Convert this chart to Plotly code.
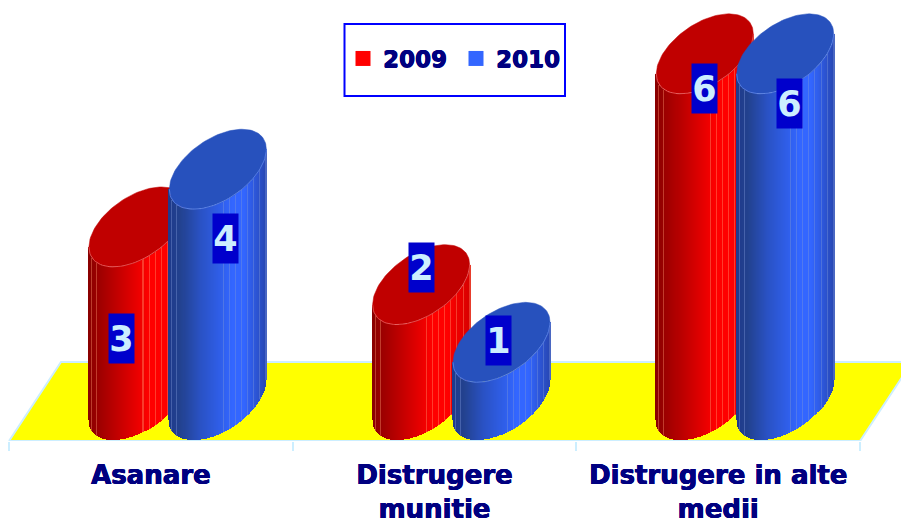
import numpy as np
import plotly.graph_objects as go

categories = ["Asanare", "Distrugere<br>munitie", "Distrugere in alte<br>medii"]
series_names = ["2009", "2010"]
values_2009 = [3, 2, 6]
values_2010 = [4, 1, 6]

# label nudges in pixels, as the original's data labels sit unevenly on the cylinders
nudge_2009 = [(-16, -112), (0, 17), (0, -35)]
nudge_2010 = [(8, -69), (-3, 2), (4, -50)]

W, H = 901, 524
CAT_PX = 283.67
UNIT_PX = 57.7
AX_LEFT, AX_BOTTOM = 9.0, 441.0
X_RANGE = [-0.5 - AX_LEFT / CAT_PX, -0.5 + (W - AX_LEFT) / CAT_PX]
Y_RANGE = [-(AX_BOTTOM - 360) / UNIT_PX, 360 / UNIT_PX]

HALF_W = 48.5 / CAT_PX
TILT = 20 / UNIT_PX
RISE = 34.6 / UNIT_PX
CENTER_DROP = 40 / UNIT_PX
OFFSETS = {"2009": -13.4 / CAT_PX, "2010": 67.0 / CAT_PX}
FLOOR_BACK = -2 / UNIT_PX
HEAVY = "0.5px 0 0 #000080, -0.3px 0 0 #000080, 0 0.3px 0 #000080"

RED_STOPS = [(0, "#8a0000"), (.12, "#a00000"), (.35, "#cc0000"), (.62, "#ff0000"), (.78, "#ff0000"), (1, "#d80000")]
BLUE_STOPS = [(0, "#1f3a8c"), (.12, "#23428f"), (.32, "#2a52c4"), (.65, "#3366ff"), (.78, "#3366ff"), (1, "#2848b4")]
TOP_COL = {"2009": "#c00000", "2010": "#2751bd"}
EDGE_COL = {"2009": "#e86060", "2010": "#5f86e8"}
SWATCH = {"2009": "#ff0000", "2010": "#3366ff"}
STOPS = {"2009": RED_STOPS, "2010": BLUE_STOPS}
PALE = {"2009": (255, 150, 110), "2010": (125, 150, 215)}


def hex2rgb(h):
    return tuple(int(h[i:i + 2], 16) for i in (1, 3, 5))


def strip_colors(name, n):
    stops = STOPS[name]
    pos = [s[0] for s in stops]
    rgb = np.array([hex2rgb(s[1]) for s in stops], float)
    out = []
    for k in range(n):
        f = k / (n - 1)
        c = np.array([np.interp(f, pos, rgb[:, j]) for j in range(3)])
        edge = k in (3, 8) or (f > 0.55 and k % 6 == 0)
        if edge:
            c = 0.6 * c + 0.4 * np.array(PALE[name])
        out.append("rgb(%d,%d,%d)" % tuple(c))
    return out


def cylinder(name, i, v, axis):
    cx = i + OFFSETS[name]
    n = 97
    u = np.linspace(-1, 1, n)
    xs = cx + u * HALF_W
    lower = -CENTER_DROP + TILT * u - RISE * np.sqrt(1 - u ** 2)
    body = go.Bar(x=xs, y=[v] * n, base=lower, width=2 * HALF_W / (n - 1),
                  marker=dict(color=strip_colors(name, n), line=dict(width=0)),
                  showlegend=False, hoverinfo="skip", xaxis=axis[0], yaxis=axis[1])
    t = np.linspace(0, 2 * np.pi, 121)
    top_x = cx + HALF_W * np.cos(t)
    top_y = v - CENTER_DROP + TILT * np.cos(t) + RISE * np.sin(t)
    top = go.Scatter(x=top_x, y=top_y, mode="lines", fill="toself", fillcolor=TOP_COL[name],
                     line=dict(width=0.5, color=TOP_COL[name]), showlegend=False,
                     hoverinfo="skip", xaxis=axis[0], yaxis=axis[1])
    arc = np.linspace(np.pi, 2 * np.pi, 50)
    rim = go.Scatter(x=cx + HALF_W * np.cos(arc), y=v - CENTER_DROP + TILT * np.cos(arc) + RISE * np.sin(arc),
                     mode="lines", line=dict(width=0.8, color=EDGE_COL[name]), showlegend=False,
                     hoverinfo="skip", xaxis=axis[0], yaxis=axis[1])
    return [body, top, rim]


fig = go.Figure()

# floor
slant = 52 / CAT_PX
fig.add_trace(go.Scatter(
    x=[-0.5, 2.5, 2.5 + slant, -0.5 + slant, -0.5],
    y=[Y_RANGE[0], Y_RANGE[0], FLOOR_BACK, FLOOR_BACK, Y_RANGE[0]],
    mode="lines", fill="toself", fillcolor="#ffff00", line=dict(color="#cceeff", width=2),
    showlegend=False, hoverinfo="skip", cliponaxis=False))

for i, v in enumerate(values_2009):
    fig.add_traces(cylinder("2009", i, v, ("x2", "y2")))
for i, v in enumerate(values_2010):
    fig.add_traces(cylinder("2010", i, v, ("x3", "y3")))

for name in series_names:
    fig.add_trace(go.Scatter(x=[None], y=[None], mode="markers", name=name,
                             marker=dict(symbol="square", size=15, color=SWATCH[name]),
                             xaxis="x3", yaxis="y3"))

annotations = []
for name, vals, nudges in (("2009", values_2009, nudge_2009), ("2010", values_2010, nudge_2010)):
    for i, v in enumerate(vals):
        annotations.append(dict(
            x=i + OFFSETS[name], y=v - CENTER_DROP, xref="x", yref="y", text=str(v), showarrow=False,
            xshift=nudges[i][0], yshift=nudges[i][1], width=25, height=49, bgcolor="#0000cc",
            font=dict(family="DejaVu Sans", size=35, color="#cceeff", weight=700),
            align="center", valign="middle", borderpad=0))

hidden = dict(visible=False, fixedrange=True)
fig.update_layout(
    width=W, height=H,
    margin=dict(l=0, r=0, t=0, b=H - AX_BOTTOM),
    paper_bgcolor="white", plot_bgcolor="white",
    barmode="overlay", bargap=0,
    showlegend=True,
    legend=dict(orientation="h", x=343 / W, y=1 - 37 / AX_BOTTOM, xanchor="left", yanchor="top",
                bgcolor="rgba(0,0,0,0)", borderwidth=0, itemwidth=30, itemclick=False,
                entrywidth=68, entrywidthmode="pixels",
                font=dict(family="DejaVu Sans", size=23, color="#000080", weight=700, shadow=HEAVY)),
    shapes=[dict(type="rect", xref="paper", yref="paper", x0=344.5 / W, x1=565 / W,
                 y0=1 - 96 / AX_BOTTOM, y1=1 - 24 / AX_BOTTOM,
                 line=dict(color="#0000ff", width=2), fillcolor="white", layer="below")],
    annotations=annotations,
    xaxis=dict(range=X_RANGE, tickmode="array", tickvals=[0, 1, 2], ticktext=categories,
               ticks="", ticklen=0, showgrid=False, zeroline=False, showline=False,
               ticklabelstandoff=16,
               tickfont=dict(family="DejaVu Sans", size=26, color="#000080", weight=700, shadow=HEAVY),
               minor=dict(tickmode="array", tickvals=[-0.5, 0.5, 1.5, 2.5], ticks="outside", ticklen=9,
                          tickwidth=2, tickcolor="#cceeff", showgrid=False),
               tickangle=0, automargin=False, fixedrange=True),
    yaxis=dict(range=Y_RANGE, **hidden),
    xaxis2=dict(range=X_RANGE, overlaying="x", **hidden),
    yaxis2=dict(range=Y_RANGE, overlaying="y", **hidden),
    xaxis3=dict(range=X_RANGE, overlaying="x", **hidden),
    yaxis3=dict(range=Y_RANGE, overlaying="y", **hidden),
)

fig.write_html("out.html", config=dict(displayModeBar=False),
               post_script="document.body.style.margin='0';document.body.style.overflow='hidden';")
